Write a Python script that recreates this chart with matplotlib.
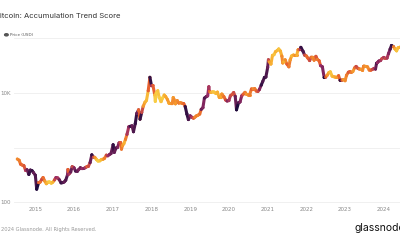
import matplotlib
matplotlib.use("Agg")
import matplotlib.pyplot as plt
import matplotlib.dates as mdates
import numpy as np
from matplotlib.collections import LineCollection
from matplotlib.colors import LinearSegmentedColormap
import datetime as dt

dates = ["2014-07-15","2014-08-01","2014-08-15","2014-09-01","2014-09-15","2014-10-01","2014-10-15","2014-11-01","2014-11-15","2014-12-01","2014-12-15",
"2015-01-01","2015-01-14","2015-02-01","2015-02-15","2015-03-01","2015-03-15","2015-04-01","2015-04-15","2015-05-01","2015-05-15","2015-06-01","2015-06-15",
"2015-07-01","2015-07-15","2015-08-01","2015-08-15","2015-09-01","2015-09-15","2015-10-01","2015-10-15","2015-11-01","2015-11-05","2015-11-15","2015-12-01","2015-12-15",
"2016-01-01","2016-01-15","2016-02-01","2016-02-15","2016-03-01","2016-03-15","2016-04-01","2016-04-15","2016-05-01","2016-05-15","2016-06-01","2016-06-17",
"2016-07-01","2016-07-15","2016-08-01","2016-08-15","2016-09-01","2016-09-15","2016-10-01","2016-10-15","2016-11-01","2016-11-15","2016-12-01","2016-12-15",
"2017-01-04","2017-01-15","2017-02-01","2017-02-15","2017-03-01","2017-03-15","2017-03-24","2017-04-01","2017-04-15","2017-05-01","2017-05-15","2017-06-01","2017-06-15",
"2017-07-01","2017-07-15","2017-08-01","2017-08-15","2017-09-01","2017-09-15","2017-10-01","2017-10-15","2017-11-01","2017-11-15","2017-12-01","2017-12-17",
"2018-01-01","2018-01-15","2018-02-01","2018-02-06","2018-02-15","2018-03-01","2018-03-15","2018-04-01","2018-04-15","2018-05-01","2018-05-15","2018-06-01","2018-06-15",
"2018-07-01","2018-07-15","2018-07-25","2018-08-01","2018-08-15","2018-09-01","2018-09-15","2018-10-01","2018-10-15","2018-11-01","2018-11-15","2018-12-01","2018-12-15",
"2019-01-01","2019-01-15","2019-02-01","2019-02-15","2019-03-01","2019-03-15","2019-04-01","2019-04-15","2019-05-01","2019-05-15","2019-06-01","2019-06-15","2019-06-26",
"2019-07-01","2019-07-15","2019-08-01","2019-08-15","2019-09-01","2019-09-15","2019-10-01","2019-10-15","2019-10-26","2019-11-01","2019-11-15","2019-12-01","2019-12-15",
"2020-01-01","2020-01-15","2020-02-01","2020-02-15","2020-03-01","2020-03-13","2020-04-01","2020-04-15","2020-05-01","2020-05-15","2020-06-01","2020-06-15",
"2020-07-01","2020-07-15","2020-08-01","2020-08-15","2020-09-01","2020-09-15","2020-10-01","2020-10-15","2020-11-01","2020-11-15","2020-12-01","2020-12-15",
"2021-01-01","2021-01-08","2021-01-15","2021-02-01","2021-02-15","2021-03-01","2021-03-15","2021-04-01","2021-04-15","2021-05-01","2021-05-15","2021-05-23","2021-06-01","2021-06-15",
"2021-07-01","2021-07-20","2021-08-01","2021-08-15","2021-09-01","2021-09-15","2021-10-01","2021-10-15","2021-11-01","2021-11-10","2021-12-01","2021-12-15",
"2022-01-01","2022-01-15","2022-02-01","2022-02-15","2022-03-01","2022-03-15","2022-04-01","2022-04-15","2022-05-01","2022-05-15","2022-06-01","2022-06-18",
"2022-07-01","2022-07-15","2022-08-01","2022-08-15","2022-09-01","2022-09-15","2022-10-01","2022-10-15","2022-11-01","2022-11-15","2022-12-01","2022-12-15",
"2023-01-01","2023-01-15","2023-02-01","2023-02-15","2023-03-01","2023-03-15","2023-04-01","2023-04-15","2023-05-01","2023-05-15","2023-06-01","2023-06-15","2023-06-25",
"2023-07-01","2023-07-15","2023-08-01","2023-08-17","2023-09-01","2023-09-15","2023-10-01","2023-10-15","2023-10-25","2023-11-01","2023-11-15","2023-12-01","2023-12-15",
"2024-01-01","2024-01-15","2024-02-01","2024-02-15","2024-03-01","2024-03-14","2024-04-01","2024-04-15","2024-05-01","2024-05-15","2024-06-01","2024-06-15"]

price = [620,590,500,480,470,385,395,325,390,380,350,
315,175,230,235,260,285,245,220,235,237,225,235,
258,285,280,260,228,230,237,255,320,400,330,360,450,
430,375,370,400,430,415,417,430,450,455,535,740,
675,665,605,570,575,608,615,640,730,710,750,780,
1130,820,985,1010,1220,1240,940,1080,1180,1420,1750,2400,2450,
2500,1950,2750,4200,4900,3300,4400,5700,6750,7300,10900,19200,
13500,13600,9100,7000,10000,10900,8200,6900,8000,9100,8500,7500,6450,
6380,6350,8200,7600,6300,7200,6500,6600,6450,6350,5600,4100,3250,
3800,3600,3450,3600,3800,3900,4100,5000,5350,8000,8500,8800,12900,
10600,10200,10400,10300,9700,10300,8300,8300,9500,9200,8500,7400,7100,
7200,8800,9400,10100,8600,4900,6600,6800,8800,9400,10200,9400,
9200,9200,11800,11800,11900,10800,10600,11500,13800,16000,19000,19400,
29000,40000,36800,33500,48000,49500,56000,59000,63000,57800,46500,35000,36500,40000,
33500,29800,39800,47000,48800,48000,48000,61000,61300,67500,57000,48800,
47000,43000,38700,44500,44400,39300,46300,40500,38500,31300,29800,19000,
19300,20800,23300,24100,20100,19700,19300,19100,20500,16900,17000,17400,
16600,20900,23700,24300,23600,24400,28500,30300,28000,27200,26900,25600,30500,
30600,30300,29700,26000,25900,26600,27900,27100,34500,35400,37900,38700,42000,
44200,42500,43000,52000,62500,73000,69700,63400,58300,66200,67800,66000]

score = [0.35,0.4,0.5,0.45,0.55,0.7,0.85,0.95,0.9,0.95,0.85,
0.9,1.0,0.5,0.45,0.6,0.45,0.3,0.2,0.1,0.05,0.1,0.2,
0.6,0.75,0.7,0.85,0.95,0.9,0.85,0.9,0.8,0.5,0.7,0.85,0.6,
0.8,0.9,0.85,0.8,0.85,0.75,0.8,0.7,0.5,0.6,0.85,0.95,
0.6,0.3,0.1,0.05,0.1,0.15,0.3,0.4,0.6,0.75,0.8,0.85,
0.95,0.85,0.9,0.8,0.7,0.5,0.4,0.3,0.2,0.4,0.7,0.8,0.95,
0.85,0.9,0.95,0.85,0.5,0.95,0.6,0.3,0.2,0.15,0.5,0.95,
0.7,0.5,0.1,0.05,0.05,0.1,0.05,0.1,0.05,0.2,0.25,0.3,0.25,
0.3,0.35,0.3,0.35,0.3,0.35,0.4,0.35,0.4,0.5,0.95,0.95,0.9,
0.8,0.7,0.5,0.35,0.4,0.35,0.45,0.85,0.8,0.9,0.85,0.75,0.7,
0.5,0.2,0.1,0.1,0.15,0.2,0.3,0.25,0.3,0.35,0.45,0.6,0.8,
0.7,0.6,0.55,0.6,0.85,1.0,0.9,0.8,0.7,0.5,0.4,0.3,
0.35,0.4,0.5,0.35,0.4,0.5,0.6,0.8,0.95,0.9,0.95,0.9,
0.85,0.6,0.3,0.2,0.15,0.1,0.2,0.15,0.1,0.2,0.35,0.3,0.2,0.35,
0.5,0.4,0.3,0.15,0.25,0.35,0.2,0.4,0.7,0.95,0.9,0.6,
0.45,0.5,0.6,0.45,0.35,0.4,0.55,0.4,0.5,0.75,0.8,1.0,
0.5,0.3,0.2,0.1,0.15,0.2,0.25,0.3,0.5,0.95,0.5,0.3,
0.35,0.4,0.55,0.5,0.4,0.3,0.45,0.6,0.55,0.4,0.3,0.35,0.4,
0.35,0.3,0.35,0.4,0.5,0.6,0.7,0.85,0.9,0.75,0.8,0.7,0.6,
0.7,0.6,0.7,0.8,0.9,0.95,0.4,0.2,0.1,0.15,0.2,0.3]

ytick_vals = [100, 1000, 10000, 100000]
ytick_labels = ["100", "", "10K", ""]
xtick_years = [2015, 2016, 2017, 2018, 2019, 2020, 2021, 2022, 2023, 2024]

cmap = LinearSegmentedColormap.from_list(
    "ats", ["#f8d64a", "#f8a62c", "#e8602f", "#9a2c67", "#1c0b3c"])

fig = plt.figure(figsize=(4, 2.4), dpi=100)
ax = fig.add_axes([0.035, 0.154, 0.975, 0.721])

x = mdates.date2num([dt.datetime.strptime(d, "%Y-%m-%d") for d in dates])
y = np.array(price, dtype=float)
s = np.array(score)

ax.set_yscale("log")
segs = [[(x[i], y[i]), (x[i + 1], y[i + 1])] for i in range(len(x) - 1)]
lc = LineCollection(segs, colors=cmap(s[:-1]), linewidths=2.2, capstyle="round", zorder=3)
ax.add_collection(lc)
ax.scatter(x, y, c=cmap(s), s=4, zorder=4, linewidths=0)

ax.set_ylim(10 ** 1.99, 10 ** (2 + 173 / 55))
ax.set_xlim(mdates.date2num(dt.datetime(2014, 6, 14)), mdates.date2num(dt.datetime(2024, 7, 10)))
ax.set_yticks(ytick_vals)
ax.set_yticklabels(ytick_labels)
ax.yaxis.set_minor_locator(matplotlib.ticker.NullLocator())
ax.set_xticks(mdates.date2num([dt.datetime(yr, 1, 1) for yr in xtick_years]))
ax.set_xticklabels([str(yr) for yr in xtick_years])
ax.tick_params(axis="both", length=0, labelsize=4, labelcolor="#888888", pad=3)
ax.tick_params(axis="y", pad=2)
ax.grid(axis="y", color="#eeeeee", linewidth=0.6)
ax.grid(axis="x", visible=False)
for sp in ax.spines.values():
    sp.set_visible(False)

fig.text(-0.013, 0.935, "Bitcoin: Accumulation Trend Score", fontsize=5.5, color="#333333",
         ha="left", va="center", family="Inter")
fig.patches.append(matplotlib.patches.Circle((0.016, 0.855), 0.0045, transform=fig.transFigure,
                                             color="#555555"))
fig.text(0.024, 0.855, "Price (USD)", fontsize=3, color="#555555", ha="left", va="center")
fig.text(0.002, 0.045, "2024 Glassnode. All Rights Reserved.", fontsize=3.7, color="#999999",
         ha="left", va="center")
fig.text(1.012, 0.05, "glassnode", fontsize=7.5, color="#111111", ha="right", va="center",
         family="Inter")

fig.savefig("out.png", dpi=100)
